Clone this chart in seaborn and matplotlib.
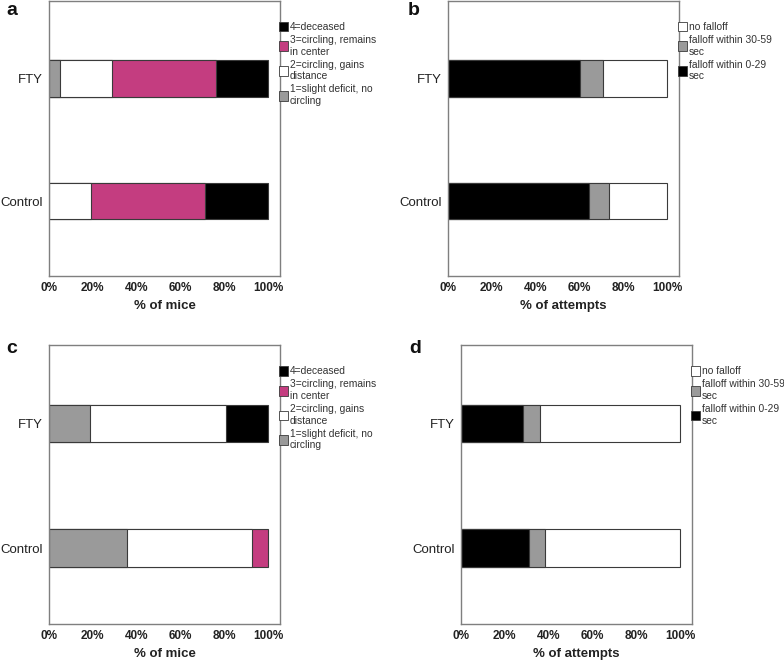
import matplotlib
matplotlib.use("Agg")

import matplotlib.pyplot as plt
import numpy as np
import pandas as pd
import seaborn as sns
from matplotlib.patches import Patch
from matplotlib.ticker import FuncFormatter

GROUPS = ["FTY", "Control"]

SCORE_LABELS = [
    "1=slight deficit, no\ncircling",
    "2=circling, gains\ndistance",
    "3=circling, remains\nin center",
    "4=deceased",
]
FALL_LABELS = [
    "falloff within 0-29\nsec",
    "falloff within 30-59\nsec",
    "no falloff",
]

# percent per segment, stacked left to right
A_FTY = [4.8, 23.8, 47.6, 23.8]
A_CONTROL = [0.0, 19.0, 52.4, 28.6]
B_FTY = [60.2, 10.8, 29.0]
B_CONTROL = [64.4, 9.2, 26.4]
C_FTY = [18.9, 62.1, 0.0, 19.0]
C_CONTROL = [35.7, 57.1, 7.2, 0.0]
D_FTY = [28.5, 7.5, 64.0]
D_CONTROL = [31.1, 7.2, 61.7]

GRAY = "#9a9a9a"
PINK = "#c43d80"
BLACK = "#000000"
WHITE = "#ffffff"
EDGE = "#3a3a3a"
SPINE = "#7f7f7f"
TEXT = "#222222"

SCORE_COLORS = [GRAY, WHITE, PINK, BLACK]
FALL_COLORS = [BLACK, GRAY, WHITE]


def stacked(ax, fty, ctrl, labels, colors, xlabel):
    df = pd.DataFrame({"group": GROUPS * len(labels),
                       "cat": np.repeat(range(len(labels)), 2),
                       "val": np.ravel(np.column_stack([fty, ctrl]))})
    df["cum"] = df.groupby("group")["val"].cumsum()
    # draw widest first so shorter segments sit on top
    for k in reversed(range(len(labels))):
        sub = df[df["cat"] == k]
        sub = sub[sub["val"] > 0]
        if sub.empty:
            continue
        sns.barplot(data=sub, x="cum", y="group", order=GROUPS, orient="h",
                    color=colors[k], saturation=1, width=0.3, errorbar=None,
                    edgecolor=EDGE, linewidth=0.8, ax=ax)
    ax.set_xlim(0, 105.5)
    ax.set_ylim(1.61, -0.63)
    ax.set_xticks([0, 20, 40, 60, 80, 100])
    ax.xaxis.set_major_formatter(FuncFormatter(lambda v, p: f"{v:.0f}%"))
    ax.set_xlabel(xlabel, fontsize=9.5, fontweight="bold", color=TEXT, labelpad=4)
    ax.set_ylabel("")
    for lab in ax.get_xticklabels():
        lab.set_fontweight("bold")
    ax.tick_params(axis="x", labelsize=8.5, length=3, width=0.8, color=SPINE,
                   labelcolor=TEXT, pad=1.5)
    ax.tick_params(axis="y", labelsize=9.5, length=4, width=0.8, color=SPINE,
                   labelcolor=TEXT, pad=0.5)
    for s in ax.spines.values():
        s.set_color(SPINE)
        s.set_linewidth(1.0)
    handles = [Patch(facecolor=colors[k], edgecolor=EDGE, linewidth=0.6)
               for k in reversed(range(len(labels)))]
    ax.legend(handles, list(reversed(labels)), loc="upper left",
              bbox_to_anchor=(0.995, 0.925), frameon=False, fontsize=7.4,
              handlelength=0.9, handleheight=1.1, handletextpad=0.15,
              labelspacing=0.3, borderaxespad=0, borderpad=0,
              labelcolor="#333333")


sns.set_style("white")
plt.rcParams["font.family"] = ["Liberation Sans", "DejaVu Sans"]

fig = plt.figure(figsize=(7.84, 6.61), dpi=100)
ax_a = fig.add_axes([0.0625, 0.5825, 0.2946, 0.416])
ax_b = fig.add_axes([0.5714, 0.5825, 0.2946, 0.416])
ax_c = fig.add_axes([0.0625, 0.056, 0.2946, 0.422])
ax_d = fig.add_axes([0.588, 0.056, 0.2946, 0.422])

stacked(ax_a, A_FTY, A_CONTROL, SCORE_LABELS, SCORE_COLORS, "% of mice")
stacked(ax_b, B_FTY, B_CONTROL, FALL_LABELS, FALL_COLORS, "% of attempts")
stacked(ax_c, C_FTY, C_CONTROL, SCORE_LABELS, SCORE_COLORS, "% of mice")
stacked(ax_d, D_FTY, D_CONTROL, FALL_LABELS, FALL_COLORS, "% of attempts")

for letter, x, y in [("a", 6, 2), ("b", 408, 2), ("c", 6, 340), ("d", 409, 340)]:
    fig.text(x / 784, 1 - y / 661, letter, fontsize=14, fontweight="bold",
             va="top", ha="left", color="#111111")

fig.savefig("out.png", dpi=100)
